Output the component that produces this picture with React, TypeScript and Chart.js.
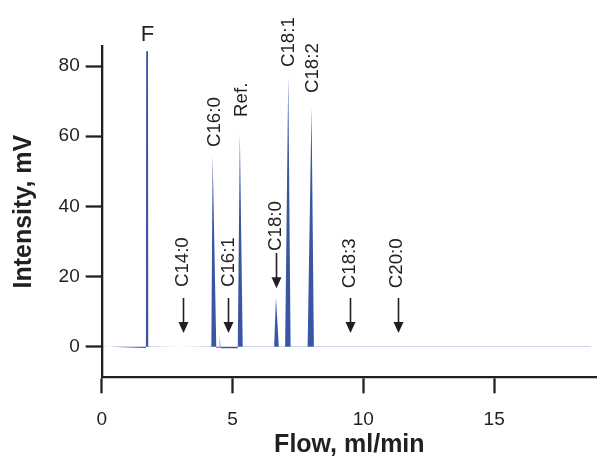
import React, { useEffect, useRef } from "react";
import { Chart, registerables } from "chart.js";

Chart.register(...registerables);

// Chromatogram trace (flow in ml/min, intensity in mV)
const flow = [0, 1.69, 1.7, 1.77, 1.78, 4.19, 4.24, 4.38, 4.49, 4.51, 4.54, 5.2, 5.28, 5.39, 6.59, 6.66, 6.77, 7.01, 7.13, 7.22, 7.87, 8.02, 8.11, 18.7];
const intensity = [0.05, -0.35, 84.2, 84.2, 0.05, -0.05, 54.5, -0.3, -0.3, 3.2, -0.4, -0.4, 60.7, -0.1, -0.1, 14, -0.1, -0.1, 77.2, -0.1, -0.1, 68.2, -0.1, -0.1];

const xTicks = [0, 5, 10, 15];
const yTicks = [0, 20, 40, 60, 80];

// Peak labels (rotated), anchored at text start (bottom)
const rotLabels = ["C16:0", "Ref.", "C18:1", "C18:2", "C14:0", "C16:1", "C18:0", "C18:3", "C20:0"];
const rotLabelX = [4.31, 5.36, 7.16, 8.07, 3.09, 4.86, 6.64, 9.49, 11.28];
const rotLabelY = [56.9, 65.5, 79.7, 72.3, 17.0, 17.0, 27.3, 16.7, 16.7];

// Arrows pointing down to expected peak positions
const arrowX = [3.11, 4.81, 6.66, 9.49, 11.32];
const arrowTop = [13.9, 13.9, 26.7, 13.9, 13.9];
const arrowBottom = [3.9, 3.9, 16.7, 3.9, 3.9];

// Front peak label
const frontLabel = "F";
const frontX = 1.75;
const frontY = 88.9;

const FONT = "'Liberation Sans', Arial, Helvetica, sans-serif";
const INK = "#231f20";
const BLUE = "#3a55a6";

const annotationPlugin = {
  id: "peakAnnotations",
  afterDraw(chart: any) {
    const { ctx, scales } = chart;
    const xs = scales.x;
    const ys = scales.y;
    ctx.save();
    ctx.fillStyle = INK;
    ctx.strokeStyle = INK;
    // rotated labels
    ctx.font = `18.7px ${FONT}`;
    ctx.textAlign = "left";
    ctx.textBaseline = "middle";
    rotLabels.forEach((t, i) => {
      const px = xs.getPixelForValue(rotLabelX[i]);
      const py = ys.getPixelForValue(rotLabelY[i]);
      ctx.save();
      ctx.translate(px, py);
      ctx.rotate(-Math.PI / 2);
      ctx.fillText(t, 0, 0);
      ctx.restore();
    });
    // arrows
    ctx.lineWidth = 1.6;
    arrowX.forEach((ax, i) => {
      const px = Math.round(xs.getPixelForValue(ax)) + 0.5;
      const top = ys.getPixelForValue(arrowTop[i]);
      const bot = ys.getPixelForValue(arrowBottom[i]);
      const head = 11;
      ctx.beginPath();
      ctx.moveTo(px, top);
      ctx.lineTo(px, bot - head + 1);
      ctx.stroke();
      ctx.beginPath();
      ctx.moveTo(px - 5, bot - head);
      ctx.lineTo(px + 5, bot - head);
      ctx.lineTo(px, bot);
      ctx.closePath();
      ctx.fill();
    });
    // F label
    ctx.font = `22px ${FONT}`;
    ctx.textAlign = "center";
    ctx.textBaseline = "middle";
    ctx.fillText(frontLabel, xs.getPixelForValue(frontX), ys.getPixelForValue(frontY));
    ctx.restore();
  },
};

export default function App() {
  const ref = useRef<HTMLCanvasElement | null>(null);

  useEffect(() => {
    document.body.style.margin = "0";
    const canvas = ref.current;
    if (!canvas) return;
    const chart = new Chart(canvas, {
      type: "line",
      data: {
        datasets: [
          {
            data: flow.map((x, i) => ({ x, y: intensity[i] })),
            fill: "origin",
            backgroundColor: BLUE,
            borderColor: "rgba(0,0,0,0)",
            borderWidth: 1,
            pointRadius: 0,
            tension: 0,
          },
        ],
      },
      options: {
        animation: false,
        responsive: false,
        devicePixelRatio: 1,
        layout: { padding: { top: 46, right: 0, left: 0, bottom: 0 } },
        plugins: {
          legend: { display: false },
          tooltip: { enabled: false },
        },
        scales: {
          x: {
            type: "linear",
            min: 0,
            max: 18.93,
            afterBuildTicks: (s: any) => {
              s.ticks = xTicks.map((v) => ({ value: v }));
            },
            afterFit: (s: any) => {
              s.height = 80.7;
            },
            border: { display: true, width: 2.3, color: INK },
            grid: {
              display: true,
              drawOnChartArea: false,
              drawTicks: true,
              tickLength: 16,
              tickWidth: 2.3,
              tickColor: INK,
              color: INK,
            },
            ticks: {
              font: { family: FONT, size: 19 },
              color: INK,
              padding: 15,
              maxRotation: 0,
            },
            title: {
              display: true,
              text: "Flow, ml/min",
              color: INK,
              font: { family: FONT, size: 25, weight: "bold", lineHeight: 1 },
              padding: { top: 0, bottom: 0 },
            },
          },
          y: {
            type: "linear",
            min: -8.7,
            max: 85.7,
            afterBuildTicks: (s: any) => {
              s.ticks = yTicks.map((v) => ({ value: v }));
            },
            afterFit: (s: any) => {
              s.width = 101.7;
            },
            border: { display: true, width: 2.3, color: INK },
            grid: {
              display: true,
              drawOnChartArea: false,
              drawTicks: true,
              tickLength: 16,
              tickWidth: 2.3,
              tickColor: INK,
              color: INK,
            },
            ticks: {
              font: { family: FONT, size: 19 },
              color: INK,
              padding: 6,
            },
            title: {
              display: true,
              text: "Intensity, mV",
              color: INK,
              font: { family: FONT, size: 25, weight: "bold", lineHeight: 1 },
              padding: { top: 11.5, bottom: 0 },
            },
          },
        },
      },
      plugins: [annotationPlugin],
    } as any);
    return () => chart.destroy();
  }, []);

  return (
    <div style={{ position: "absolute", left: 0, top: 0, width: 597, height: 458 }}>
      <canvas ref={ref} width={597} height={458} />
    </div>
  );
}
